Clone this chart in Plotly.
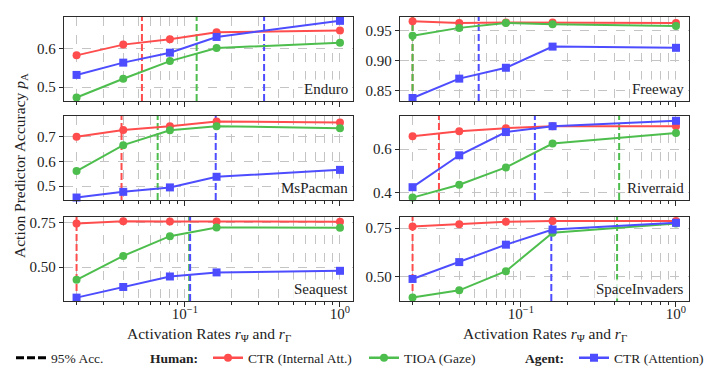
import plotly.graph_objects as go
from plotly.subplots import make_subplots


# ==========================================================
# Data
# ==========================================================

rates = [0.02, 0.04, 0.08, 0.16, 1.0]

games = ["Enduro", "Freeway", "MsPacman", "Riverraid", "Seaquest", "SpaceInvaders"]

# Human: CTR (Internal Att.)
human_ctr = [
    [0.583, 0.611, 0.625, 0.643, 0.648],
    [0.965, 0.962, 0.963, 0.963, 0.962],
    [0.700, 0.727, 0.743, 0.762, 0.758],
    [0.660, 0.683, 0.697, 0.706, 0.706],
    [0.745, 0.758, 0.757, 0.756, 0.755],
    [0.759, 0.771, 0.783, 0.787, 0.787],
]

# Human: TIOA (Gaze)
human_tioa = [
    [0.473, 0.522, 0.568, 0.602, 0.616],
    [0.941, 0.954, 0.962, 0.960, 0.957],
    [0.561, 0.666, 0.726, 0.743, 0.734],
    [0.377, 0.436, 0.516, 0.626, 0.675],
    [0.428, 0.563, 0.674, 0.723, 0.721],
    [0.392, 0.429, 0.528, 0.727, 0.775],
]

# Agent: CTR (Attention)
agent_ctr = [
    [0.532, 0.564, 0.590, 0.631, 0.673],
    [0.838, 0.870, 0.888, 0.923, 0.921],
    [0.454, 0.477, 0.495, 0.538, 0.566],
    [0.425, 0.572, 0.679, 0.706, 0.731],
    [0.328, 0.388, 0.447, 0.470, 0.479],
    [0.488, 0.575, 0.665, 0.743, 0.778],
]

# activation rate where 95% accuracy is reached
human_ctr_95 = [0.0528, 0.02, 0.039, 0.0296, 0.02, 0.02]
human_tioa_95 = [0.119, 0.02, 0.0667, 0.43, 0.1065, 0.417]
agent_ctr_95 = [0.324, 0.0534, 0.158, 0.123, 0.108, 0.157]

x_tick_vals = [0.1, 1]
x_tick_text = ["10<sup>\u22121</sup>", "10<sup>0</sup>"]
x_minor_vals = [0.02, 0.03, 0.04, 0.05, 0.06, 0.07, 0.08, 0.09,
                0.2, 0.3, 0.4, 0.5, 0.6, 0.7, 0.8, 0.9]


# ==========================================================
# Styling
# ==========================================================

RED = "#ff4d4d"
GREEN = "#4dbe4d"
BLUE = "#4d4dff"
FRAME = "#2b2b2b"
GRID = "#c4c4c4"
FONT = "Liberation Serif"

y_ranges = [(0.464, 0.683), (0.833, 0.972), (0.444, 0.784),
            (0.366, 0.753), (0.309, 0.782), (0.374, 0.808)]
y_dticks = [0.1, 0.05, 0.1, 0.2, 0.25, 0.25]
y_formats = [".1f", ".2f", ".1f", ".1f", ".2f", ".2f"]

W, H = 718, 371
L, R, T, B = 56, 37, 9, 78
PW, PH = W - L - R, H - T - B


def px_x(px):
    return (px - L) / PW


def px_y(py):
    return (H - B - py) / PH


series = [
    (human_ctr, human_ctr_95, RED, "circle"),
    (human_tioa, human_tioa_95, GREEN, "circle"),
    (agent_ctr, agent_ctr_95, BLUE, "square"),
]


# ==========================================================
# Figure
# ==========================================================

fig = make_subplots(rows=3, cols=2)

for i, game in enumerate(games):
    row, col = i // 2 + 1, i % 2 + 1
    y0, y1 = y_ranges[i]

    # 95% accuracy thresholds
    for values, thresh, color, symbol in series:
        fig.add_trace(
            go.Scatter(
                x=[thresh[i], thresh[i]],
                y=[y0, y1],
                mode="lines",
                line=dict(color=color, width=2, dash="7px,3px"),
                showlegend=False,
                hoverinfo="skip",
            ),
            row=row, col=col,
        )

    # accuracy curves
    for values, thresh, color, symbol in series:
        fig.add_trace(
            go.Scatter(
                x=rates,
                y=values[i],
                mode="lines+markers",
                line=dict(color=color, width=2),
                marker=dict(color=color, size=8, symbol=symbol),
                showlegend=False,
                cliponaxis=False,
            ),
            row=row, col=col,
        )

    fig.update_xaxes(
        type="log",
        range=[-1.78, 0.084],
        tickvals=x_tick_vals,
        ticktext=x_tick_text,
        showticklabels=(row == 3),
        ticklabelstandoff=-6,
        ticks="outside",
        ticklen=5,
        tickwidth=1,
        tickcolor=FRAME,
        showline=True,
        mirror=True,
        linecolor=FRAME,
        linewidth=1.3,
        showgrid=True,
        griddash="dash",
        gridcolor=GRID,
        gridwidth=0.8,
        zeroline=False,
        minor=dict(
            tickvals=x_minor_vals,
            ticks="outside",
            ticklen=3,
            tickcolor=FRAME,
            showgrid=True,
            griddash="dash",
            gridcolor=GRID,
            gridwidth=0.8,
        ),
        tickfont=dict(family=FONT, size=15, color="#222"),
        row=row, col=col,
    )

    fig.update_yaxes(
        range=[y0, y1],
        tick0=0,
        dtick=y_dticks[i],
        tickformat=y_formats[i],
        ticks="outside",
        ticklen=4,
        tickcolor=FRAME,
        showline=True,
        mirror=True,
        linecolor=FRAME,
        linewidth=1.3,
        showgrid=True,
        griddash="dash",
        gridcolor=GRID,
        gridwidth=0.8,
        zeroline=False,
        tickfont=dict(family=FONT, size=15, color="#222"),
        row=row, col=col,
    )

    # game name in lower right corner
    axis_id = "" if i == 0 else str(i + 1)
    fig.add_annotation(
        text=game,
        xref=f"x{axis_id} domain",
        yref=f"y{axis_id} domain",
        x=1, y=0,
        xanchor="right", yanchor="bottom",
        xshift=-3, yshift=2,
        showarrow=False,
        bgcolor="rgba(255,255,255,0.8)",
        font=dict(family=FONT, size=15, color="#222"),
    )


# panel positions (measured in pixels)
col_x = [(56, 345), (392, 681)]
row_y = [(9, 93), (108, 192), (209, 293)]
for i in range(6):
    row, col = i // 2, i % 2
    axis_id = "" if i == 0 else str(i + 1)
    fig.layout[f"xaxis{axis_id}"].domain = [px_x(col_x[col][0]), px_x(col_x[col][1])]
    fig.layout[f"yaxis{axis_id}"].domain = [px_y(row_y[row][1]), px_y(row_y[row][0])]


# axis titles
for cx in [(56 + 345) / 2, (392 + 681) / 2]:
    fig.add_annotation(
        text="Activation Rates <i>r</i><sub>\u03a8</sub> and <i>r</i><sub>\u0393</sub>",
        xref="paper", yref="paper",
        x=px_x(cx), y=px_y(326),
        xanchor="center", yanchor="middle",
        showarrow=False,
        font=dict(family=FONT, size=15.5, color="#222"),
    )

fig.add_annotation(
    text="Action Predictor Accuracy <i>p</i><sub>A</sub>",
    xref="paper", yref="paper",
    x=px_x(12), y=px_y(158),
    xanchor="center", yanchor="middle",
    textangle=-90,
    showarrow=False,
    font=dict(family=FONT, size=15.5, color="#222"),
)


# ==========================================================
# Legend (one legend per column of the original)
# ==========================================================

legend_items = [
    ("legend", "95% Acc.", dict(color="black", width=3, dash="8px,3px"), None, 3),
    ("legend2", "<b>Human:</b>", dict(color="rgba(0,0,0,0)", width=0), None, 102),
    ("legend3", "CTR (Internal Att.)", dict(color=RED, width=2.5), "circle", 200),
    ("legend4", "TIOA (Gaze)", dict(color=GREEN, width=2.5), "circle", 356),
    ("legend5", "<b>Agent:</b>", dict(color="rgba(0,0,0,0)", width=0), None, 477),
    ("legend6", "CTR (Attention)", dict(color=BLUE, width=2.5), "square", 566),
]

for name, label, line, symbol, origin in legend_items:
    mode = "lines" if symbol is None else "lines+markers"
    fig.add_trace(
        go.Scatter(
            x=[None], y=[None],
            mode=mode,
            name=label,
            line=line,
            marker=dict(symbol=symbol or "circle", size=8, color=line["color"]),
            legend=name,
            showlegend=True,
        ),
        row=1, col=1,
    )
    fig.layout[name] = dict(
        x=px_x(origin), y=px_y(350),
        xanchor="left", yanchor="middle",
        orientation="h",
        bgcolor="rgba(0,0,0,0)",
        borderwidth=0,
        font=dict(family=FONT, size=13.5, color="#222"),
    )

fig.update_layout(
    width=W,
    height=H,
    margin=dict(l=L, r=R, t=T, b=B, autoexpand=False),
    plot_bgcolor="white",
    paper_bgcolor="white",
    font=dict(family=FONT, color="#222"),
)

fig.write_html("out.html")
